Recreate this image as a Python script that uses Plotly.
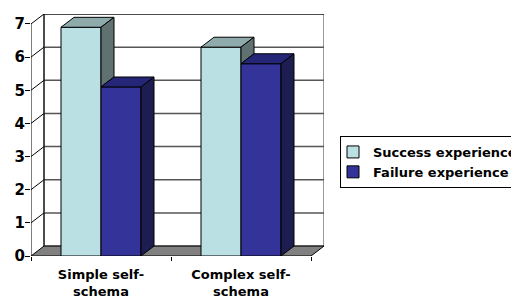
import plotly.graph_objects as go

# ---- data ----
categories = ["Simple self-<br>schema", "Complex self-<br>schema"]
series_names = ["Success experience", "Failure experience"]
success = [6.9, 6.3]
failure = [5.1, 5.8]
y_ticks = [0, 1, 2, 3, 4, 5, 6, 7]

# ---- style ----
front_colors = ["#BBE0E3", "#333399"]
top_colors = ["#8FAAAB", "#262678"]
side_colors = ["#5F7171", "#1D1D52"]
FONT = "DejaVu Sans"

# page body has an 8px default margin: the figure frame is offset by it
PAGE_OFF = 8
FIG_W, FIG_H = 519 - PAGE_OFF, 299 - PAGE_OFF

W = 40 / 140          # bar width in category units
DX = 13 / 140         # depth offset (x, category units)
DY = 0.30             # depth offset (y, value units)
YMAX = max(y_ticks)
n = len(categories)
centers = [i + 0.5 for i in range(n)]

fig = go.Figure()

shapes = []
shapes.append(dict(type="rect", xref="x", yref="y", x0=DX, x1=n + DX, y0=DY, y1=YMAX + DY,
                   fillcolor="white", line=dict(color="#333333", width=1), layer="below"))
for v in y_ticks[1:-1]:
    shapes.append(dict(type="line", xref="x", yref="y", x0=DX, x1=n + DX, y0=v + DY, y1=v + DY,
                       line=dict(color="#555555", width=1.5), layer="below"))
shapes.append(dict(type="line", xref="x", yref="y", x0=DX, x1=n + DX, y0=YMAX + DY, y1=YMAX + DY,
                   line=dict(color="black", width=1), layer="below"))
shapes.append(dict(type="line", xref="x", yref="y", x0=DX, x1=DX, y0=DY, y1=YMAX + DY,
                   line=dict(color="black", width=1), layer="below"))
for v in y_ticks[1:]:
    shapes.append(dict(type="line", xref="x", yref="y", x0=0, x1=DX, y0=v, y1=v + DY,
                       line=dict(color="black", width=1), layer="below"))
shapes.append(dict(type="line", xref="x", yref="y", x0=0, x1=0, y0=0, y1=YMAX,
                   line=dict(color="black", width=1), layer="below"))
shapes.append(dict(type="path", xref="x", yref="y",
                   path=f"M0,0 L{n},0 L{n + DX},{DY} L{DX},{DY} Z",
                   fillcolor="#808080", line=dict(color="black", width=1), layer="below"))

offsets = [-W, 0]
all_vals = [success, failure]
for s, vals in enumerate(all_vals):
    fig.add_trace(go.Bar(
        x=centers, y=vals, width=W, offset=offsets[s], name=series_names[s],
        marker=dict(color=front_colors[s], line=dict(color="black", width=1)),
        hoverinfo="skip",
    ))

for s, vals in enumerate(all_vals):
    tx, ty, sx, sy = [], [], [], []
    for i, c in enumerate(centers):
        x0 = c + offsets[s]
        x1 = x0 + W
        v = vals[i]
        tx += [x0, x1, x1 + DX, x0 + DX, x0, None]
        ty += [v, v, v + DY, v + DY, v, None]
        bottom = 0
        if s + 1 < len(all_vals):
            bottom = min(v, all_vals[s + 1][i])
        sx += [x1, x1 + DX, x1 + DX, x1, x1, None]
        sy += [bottom, bottom + DY, v + DY, v, bottom, None]
    fig.add_trace(go.Scatter(x=tx, y=ty, mode="lines", fill="toself", fillcolor=top_colors[s],
                             line=dict(color="black", width=1), showlegend=False, hoverinfo="skip"))
    fig.add_trace(go.Scatter(x=sx, y=sy, mode="lines", fill="toself", fillcolor=side_colors[s],
                             line=dict(color="black", width=1), showlegend=False, hoverinfo="skip"))

fig.update_layout(
    width=FIG_W, height=FIG_H,
    margin=dict(l=31 - PAGE_OFF, r=FIG_W - (324 - PAGE_OFF), t=14 - PAGE_OFF,
                b=FIG_H - (256 - PAGE_OFF), autoexpand=False),
    paper_bgcolor="white", plot_bgcolor="white",
    font=dict(family=FONT, size=13, color="black", weight="bold"),
    barmode="overlay",
    shapes=shapes,
    showlegend=True,
    legend=dict(xref="container", yref="container",
                x=(340 - PAGE_OFF) / FIG_W, y=1 - (136 - PAGE_OFF) / FIG_H,
                xanchor="left", yanchor="top",
                bordercolor="black", borderwidth=1, bgcolor="white",
                font=dict(family=FONT, size=13, weight="bold"), indentation=-8,
                traceorder="normal", tracegroupgap=0),
    xaxis=dict(range=[0, n + DX], tickmode="array", tickvals=centers, ticktext=categories,
               ticks="", showgrid=False, zeroline=False, showline=False, automargin=False,
               ticklabelstandoff=9,
               tickfont=dict(family=FONT, size=13, weight="bold"),
               minor=dict(tickmode="array", tickvals=list(range(n + 1)), ticks="outside",
                          ticklen=4, tickcolor="black", showgrid=False)),
    yaxis=dict(range=[0, YMAX + DY], tickmode="array", tickvals=y_ticks,
               ticks="outside", ticklen=5, tickcolor="black", showgrid=False,
               zeroline=False, showline=False, automargin=False,
               ticklabelstandoff=-3,
               tickfont=dict(family=FONT, size=15, weight="bold")),
)

fig.write_html("out.html")
